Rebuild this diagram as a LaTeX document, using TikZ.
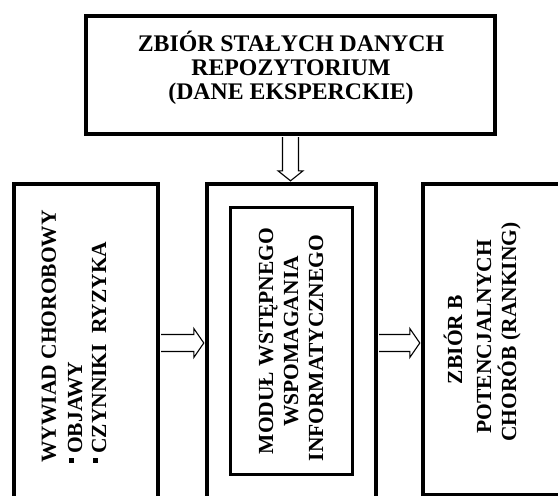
\documentclass[tikz,border=0pt]{standalone}
\usepackage{fontspec}
\setmainfont{Liberation Serif}
\usetikzlibrary{calc}
\begin{document}
\begin{tikzpicture}[x=1pt,y=-1pt,
  box/.style={draw, line width=3.2pt, inner sep=0pt, rectangle},
  blk/.style={draw, line width=1.1pt, fill=white, line join=miter},
  txt/.style={inner sep=0pt, font=\bfseries\fontsize{21.5}{25}\selectfont},
  ttxt/.style={inner sep=0pt, font=\bfseries\fontsize{23.8}{24}\selectfont},
  vtxt/.style={txt, rotate=90}]
\useasboundingbox (0,0) rectangle (558,496);
\clip (0,0) rectangle (558,496);
% boxes
\node[box, minimum width=409pt, minimum height=118pt] (top) at (290.5,75) {};
\node[box, minimum width=144pt, minimum height=318pt] (left) at (86,343) {};
\node[box, minimum width=169pt, minimum height=318pt] (mid) at (291.5,343) {};
\node[box, line width=3pt, minimum width=122pt, minimum height=267pt] (inner) at (291,340.5) {};
\node[box, minimum width=152pt, minimum height=310.5pt] (right) at (499,339.25) {};
% top text
\node[ttxt, anchor=base] (t1) at (291,51) {ZBIÓR STAŁYCH DANYCH};
\node[ttxt, anchor=base] (t2) at (291,75) {REPOZYTORIUM};
\node[ttxt, anchor=base] (t3) at (291,99) {(DANE EKSPERCKIE)};
% left text
\node[vtxt, anchor=base west] (l1) at (56,463) {WYWIAD CHOROBOWY};
\node[vtxt, anchor=base west] (l2) at (82,463) {\raisebox{8pt}{\rule{5pt}{5pt}}\hspace{4pt}OBJAWY};
\node[vtxt, anchor=base west] (l3) at (106,463) {\raisebox{8pt}{\rule{5pt}{5pt}}\hspace{4pt}CZYNNIKI\hspace{10pt}RYZYKA};
% middle text
\node[vtxt, anchor=base] (m1) at (273,341) {MODUŁ WSTĘPNEGO};
\node[vtxt, anchor=base] (m2) at (298,341.5) {WSPOMAGANIA};
\node[vtxt, anchor=base] (m3) at (323,348) {INFORMATYCZNEGO};
% right text
\node[vtxt, anchor=base] (r1) at (462,339.5) {ZBIÓR B};
\node[vtxt, anchor=base] (r2) at (491,336.5) {POTENCJALNYCH};
\node[vtxt, anchor=base] (r3) at (516,332) {CHORÓB (RANKING)};
% block arrows
\draw[blk] let \p1=(top.south), \p2=(mid.north) in
  (\x1-8pt,\y1-1.6pt) -- (\x1-8pt,\y2+11.6pt) -- (\x1-12.5pt,\y2+11.6pt) -- (\x1,\y2+1.6pt)
  -- (\x1+12.5pt,\y2+11.6pt) -- (\x1+8pt,\y2+11.6pt) -- (\x1+8pt,\y1-1.6pt);
\draw[blk] let \p1=(left.east), \p2=(mid.west) in
  (\x1+1.6pt,\y1+8.5pt) -- (\x2-11.6pt,\y1+8.5pt) -- (\x2-11.6pt,\y1+14.5pt) -- (\x2-1.6pt,\y1)
  -- (\x2-11.6pt,\y1-14.5pt) -- (\x2-11.6pt,\y1-8.5pt) -- (\x1+1.6pt,\y1-8.5pt);
\draw[blk] let \p1=(mid.east), \p2=(right.west) in
  (\x1+1.6pt,\y1+8.5pt) -- (\x2-11.6pt,\y1+8.5pt) -- (\x2-11.6pt,\y1+14.5pt) -- (\x2-1.6pt,\y1)
  -- (\x2-11.6pt,\y1-14.5pt) -- (\x2-11.6pt,\y1-8.5pt) -- (\x1+1.6pt,\y1-8.5pt);
\end{tikzpicture}
\end{document}
